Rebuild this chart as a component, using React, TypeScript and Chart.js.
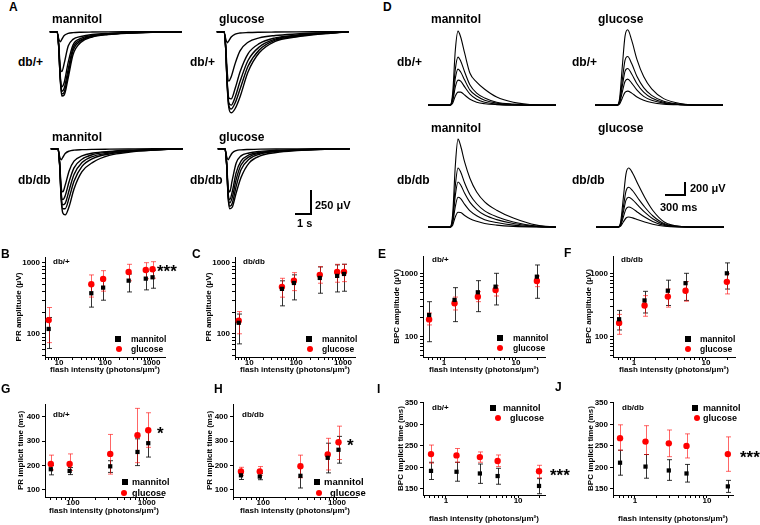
import React, { useEffect, useRef } from "react";
import { Chart, registerables } from "chart.js";

Chart.register(...registerables);

const FONT = "'Liberation Sans', Arial, Helvetica, sans-serif";
Chart.defaults.font.family = FONT;
Chart.defaults.color = "#000";

// ---------------- DATA ----------------
// Panel A: photoresponse traces (time in s after flash, amplitude in µV)
const PR_TIMES_S = [-0.45, 0, 0.1, 0.2, 0.3, 0.45, 0.7, 1.0, 1.5, 2.2, 3.2, 4.5, 6, 7.8];
const A_DBH_MANNITOL = [
  [0, 0, -70, -105, -80, -40, -18, -10, -6, -4, -2, -1, 0, 0],
  [0, 0, -120, -360, -415, -330, -150, -80, -50, -30, -18, -10, -4, 0],
  [0, 0, -130, -450, -575, -530, -320, -140, -70, -40, -22, -12, -5, 0],
  [0, 0, -135, -470, -620, -590, -390, -170, -85, -45, -25, -13, -5, 0],
  [0, 0, -140, -480, -650, -630, -440, -200, -95, -50, -27, -14, -6, 0],
  [0, 0, -140, -490, -670, -660, -480, -240, -110, -55, -30, -15, -6, 0],
];
const A_DBH_GLUCOSE = [
  [0, 0, -70, -115, -95, -55, -25, -14, -9, -6, -4, -2, -1, 0],
  [0, 0, -130, -420, -515, -470, -330, -200, -110, -65, -40, -24, -12, 0],
  [0, 0, -150, -520, -690, -700, -590, -420, -230, -125, -65, -36, -17, 0],
  [0, 0, -155, -540, -740, -765, -680, -520, -300, -160, -78, -42, -20, 0],
  [0, 0, -160, -550, -770, -805, -740, -600, -360, -190, -88, -48, -22, 0],
  [0, 0, -160, -560, -790, -845, -800, -680, -420, -220, -100, -55, -25, 0],
];
const A_DBDB_MANNITOL = [
  [0, 0, -80, -115, -90, -50, -25, -15, -10, -7, -5, -3, -1, 0],
  [0, 0, -140, -400, -450, -380, -230, -130, -75, -45, -28, -16, -8, 0],
  [0, 0, -150, -460, -530, -490, -340, -200, -110, -60, -35, -20, -9, 0],
  [0, 0, -155, -490, -585, -570, -430, -270, -145, -80, -45, -24, -11, 0],
  [0, 0, -160, -510, -625, -625, -510, -340, -185, -100, -55, -28, -13, 0],
  [0, 0, -165, -530, -670, -690, -600, -420, -240, -140, -70, -35, -15, 0],
];
const A_DBDB_GLUCOSE = [
  [0, 0, -80, -115, -85, -45, -20, -12, -8, -5, -3, -2, -1, 0],
  [0, 0, -140, -410, -450, -330, -150, -75, -45, -28, -17, -10, -5, 0],
  [0, 0, -150, -470, -530, -450, -250, -130, -65, -38, -22, -12, -6, 0],
  [0, 0, -155, -490, -565, -510, -320, -170, -85, -45, -26, -14, -6, 0],
  [0, 0, -160, -505, -600, -570, -390, -220, -110, -55, -30, -16, -7, 0],
  [0, 0, -160, -515, -625, -610, -460, -300, -150, -75, -40, -20, -8, 0],
];

// Panel D: bipolar cell responses (time in ms after flash, amplitude in µV)
const BPC_TIMES_MS = [-330, 0, 40, 80, 120, 160, 220, 300, 400, 520, 700, 950, 1300, 1590];
const D_DBH_MANNITOL = [
  [0, 0, 185, 850, 1140, 1050, 800, 490, 355, 245, 125, 45, 5, 0],
  [0, 0, 125, 555, 740, 680, 510, 310, 185, 110, 45, 15, 0, 0],
  [0, 0, 90, 415, 555, 510, 385, 230, 140, 75, 30, 8, 0, 0],
  [0, 0, 60, 280, 385, 370, 280, 170, 90, 45, 15, 3, 0, 0],
  [0, 0, 30, 140, 200, 200, 155, 90, 45, 22, 8, 0, 0, 0],
];
const D_DBH_GLUCOSE = [
  [0, 0, 110, 600, 1060, 1160, 1000, 700, 440, 250, 100, 25, 0, 0],
  [0, 0, 75, 390, 690, 750, 640, 440, 270, 150, 60, 15, 0, 0],
  [0, 0, 55, 295, 520, 565, 480, 330, 200, 110, 45, 10, 0, 0],
  [0, 0, 40, 205, 365, 400, 340, 230, 135, 75, 30, 8, 0, 0],
  [0, 0, 20, 110, 195, 215, 185, 125, 75, 40, 15, 4, 0, 0],
];
const D_DBDB_MANNITOL = [
  [0, 0, 200, 950, 1355, 1250, 1000, 750, 540, 390, 260, 140, 30, 0],
  [0, 0, 135, 640, 910, 850, 680, 500, 360, 250, 160, 80, 15, 0],
  [0, 0, 100, 490, 695, 650, 520, 380, 270, 185, 115, 55, 10, 0],
  [0, 0, 65, 320, 460, 440, 350, 250, 175, 115, 70, 30, 5, 0],
  [0, 0, 30, 160, 230, 225, 180, 130, 90, 55, 30, 12, 2, 0],
];
const D_DBDB_GLUCOSE = [
  [0, 0, 80, 450, 820, 910, 830, 660, 460, 260, 75, 10, 0, 0],
  [0, 0, 55, 305, 555, 615, 560, 445, 310, 175, 50, 7, 0, 0],
  [0, 0, 40, 230, 415, 460, 420, 335, 230, 130, 38, 5, 0, 0],
  [0, 0, 28, 155, 280, 310, 285, 225, 155, 88, 25, 3, 0, 0],
  [0, 0, 14, 78, 140, 155, 142, 112, 78, 44, 12, 2, 0, 0],
];

// Flash intensities (photons/µm²)
const PR_INTENSITY = [6, 50, 90, 320, 750, 1050];
const PR_INTENSITY_TIME = [50, 90, 320, 750, 1050];
const BPC_INTENSITY = [0.62, 1.4, 2.95, 5.2, 19.5];

// B: PR amplitude db/+
const B_MANNITOL = [117, 374, 449, 563, 601, 628];
const B_MANNITOL_LO = [62, 238, 298, 390, 417, 440];
const B_MANNITOL_HI = [170, 480, 580, 700, 760, 790];
const B_GLUCOSE = [156, 500, 596, 747, 797, 815];
const B_GLUCOSE_LO = [75, 330, 400, 560, 600, 610];
const B_GLUCOSE_HI = [235, 678, 779, 958, 1010, 1043];
// C: PR amplitude db/db
const C_MANNITOL = [143, 431, 522, 615, 657, 700];
const C_MANNITOL_LO = [72, 248, 301, 374, 390, 399];
const C_MANNITOL_HI = [190, 560, 680, 880, 940, 960];
const C_GLUCOSE = [153, 460, 560, 680, 745, 750];
const C_GLUCOSE_LO = [100, 329, 407, 518, 535, 545];
const C_GLUCOSE_HI = [206, 608, 731, 887, 958, 958];
// E: BPC amplitude db/+
const E_MANNITOL = [223, 387, 512, 629, 906];
const E_MANNITOL_LO = [84, 175, 252, 322, 411];
const E_MANNITOL_HI = [363, 606, 783, 1025, 1390];
const E_GLUCOSE = [190, 343, 436, 557, 774];
const E_GLUCOSE_LO = [155, 268, 363, 447, 629];
const E_GLUCOSE_HI = [240, 430, 524, 650, 930];
// F: BPC amplitude db/db
const F_MANNITOL = [191, 380, 542, 714, 1025];
const F_MANNITOL_LO = [129, 240, 316, 380, 576];
const F_MANNITOL_HI = [264, 530, 797, 1025, 1500];
const F_GLUCOSE = [167, 316, 437, 540, 750];
const F_GLUCOSE_LO = [110, 213, 297, 369, 482];
const F_GLUCOSE_HI = [228, 453, 576, 757, 1010];
// G: PR implicit time db/+
const G_MANNITOL = [185, 178, 197, 256, 292];
const G_MANNITOL_LO = [162, 163, 172, 200, 235];
const G_MANNITOL_HI = [200, 192, 220, 310, 350];
const G_GLUCOSE = [207, 207, 248, 325, 345];
const G_GLUCOSE_LO = [182, 180, 165, 212, 275];
const G_GLUCOSE_HI = [243, 248, 328, 435, 417];
// H: PR implicit time db/db
const H_MANNITOL = [160, 155, 158, 232, 265];
const H_MANNITOL_LO = [143, 142, 108, 170, 210];
const H_MANNITOL_HI = [175, 168, 205, 292, 320];
const H_GLUCOSE = [176, 176, 197, 246, 296];
const H_GLUCOSE_LO = [160, 160, 150, 182, 225];
const H_GLUCOSE_HI = [193, 196, 243, 312, 362];
// I: BPC implicit time db/+
const I_MANNITOL = [192, 190, 186, 180, 157];
const I_MANNITOL_LO = [172, 168, 163, 161, 139];
const I_MANNITOL_HI = [212, 212, 208, 198, 174];
const I_GLUCOSE = [231, 228, 224, 215, 191];
const I_GLUCOSE_LO = [210, 212, 212, 202, 176];
const I_GLUCOSE_HI = [252, 244, 236, 229, 205];
// J: BPC implicit time db/db
const J_MANNITOL = [211, 202, 193, 186, 156];
const J_MANNITOL_LO = [182, 175, 170, 166, 142];
const J_MANNITOL_HI = [240, 230, 218, 207, 170];
const J_GLUCOSE = [268, 260, 256, 250, 231];
const J_GLUCOSE_LO = [240, 230, 225, 222, 191];
const J_GLUCOSE_HI = [299, 297, 287, 278, 271];

// Tick labels
const PR_X_TICKS = [10, 100, 1000];
const PR_TIME_X_TICKS = [100, 1000];
const BPC_X_TICKS = [1, 10];
const AMP_Y_TICKS = [100, 1000];
const PR_TIME_Y_TICKS = [100, 200, 300, 400];
const BPC_TIME_Y_TICKS = [150, 200, 250, 300, 350];

const X_TITLE = "flash intensity (photons/\u03bcm\u00b2)";

// ---------------- helpers ----------------
function logTicks(min: number, max: number): number[] {
  const out: number[] = [];
  for (let e = Math.floor(Math.log10(min)); e <= Math.ceil(Math.log10(max)); e++) {
    for (let k = 1; k < 10; k++) {
      const v = parseFloat((k * Math.pow(10, e)).toPrecision(6));
      if (v >= min && v <= max) out.push(v);
    }
  }
  return out;
}
function majorLabel(v: number, majors: number[]) {
  const m = majors.find((mm) => Math.abs(v - mm) <= Math.abs(mm) * 1e-6);
  return m === undefined ? "" : String(m);
}

const errorBarPlugin = {
  id: "errorBars",
  beforeDatasetsDraw(chart: any) {
    const { ctx, scales } = chart;
    const xs = scales.x;
    const ys = scales.y;
    ctx.save();
    chart.data.datasets.forEach((ds: any) => {
      if (!ds.errLo) return;
      ctx.strokeStyle = ds.errColor;
      ctx.lineWidth = 1;
      ds.data.forEach((p: any, i: number) => {
        const x = Math.round(xs.getPixelForValue(p.x)) + 0.5;
        const yl = ys.getPixelForValue(ds.errLo[i]);
        const yh = ys.getPixelForValue(ds.errHi[i]);
        ctx.beginPath();
        ctx.moveTo(x, yl);
        ctx.lineTo(x, yh);
        ctx.moveTo(x - 2.5, yl);
        ctx.lineTo(x + 2.5, yl);
        ctx.moveTo(x - 2.5, yh);
        ctx.lineTo(x + 2.5, yh);
        ctx.stroke();
      });
    });
    ctx.restore();
  },
};

function waveConfig(w: any) {
  return {
    type: "line",
    data: {
      datasets: w.traces.map((tr: number[]) => ({
        data: w.times.map((t: number, i: number) => ({ x: t, y: tr[i] })),
        borderColor: "#000",
        borderWidth: w.lw,
        pointRadius: 0,
        cubicInterpolationMode: "monotone",
        fill: false,
        clip: false,
      })),
    },
    options: {
      animation: false,
      responsive: false,
      events: [],
      layout: { padding: 0, autoPadding: false },
      plugins: { legend: { display: false }, tooltip: { enabled: false } },
      scales: {
        x: { type: "linear", display: false, min: w.xr[0], max: w.xr[1] },
        y: { type: "linear", display: false, min: w.yr[0], max: w.yr[1] },
      },
    },
  };
}

function axis(log: boolean, range: number[], majors: number[], title: string, fit: (s: any) => void, pad: number) {
  return {
    type: log ? "logarithmic" : "linear",
    min: range[0],
    max: range[1],
    bounds: "data",
    afterBuildTicks: (s: any) => {
      s.ticks = (log ? logTicks(range[0], range[1]) : majors).map((v) => ({ value: v }));
    },
    afterFit: fit,
    ticks: {
      autoSkip: false,
      maxRotation: 0,
      minRotation: 0,
      padding: pad,
      color: "#000",
      font: { size: 8, weight: "bold", family: FONT },
      callback: (v: any) => majorLabel(Number(v), majors),
    },
    grid: { display: true, drawOnChartArea: false, drawTicks: true, tickLength: 3, color: "#000", lineWidth: 1 },
    border: { display: true, color: "#000", width: 1 },
    title: { display: true, text: title, color: "#000", padding: { top: 0, bottom: 0 }, font: { size: 8, weight: "bold", family: FONT } },
  };
}

function scatterConfig(p: any) {
  const [l, t, w, h] = p.box;
  const [x0, y0, x1, y1] = p.area;
  const padL = p.titleX - 5 - l;
  const yW = x0 - l - padL;
  const padT = y0 - t;
  const padR = l + w - x1;
  const xH = p.titleBottom - y1;
  const padB = t + h - p.titleBottom;
  const pts = (vals: number[]) => p.x.map((x: number, i: number) => ({ x, y: vals[i] }));
  return {
    type: "scatter",
    data: {
      datasets: [
        {
          label: "mannitol",
          data: pts(p.m),
          errLo: p.mLo,
          errHi: p.mHi,
          errColor: "rgba(0,0,0,0.8)",
          pointStyle: "rect",
          pointRadius: 3,
          backgroundColor: "#000",
          borderColor: "#000",
          borderWidth: 0,
        },
        {
          label: "glucose",
          data: pts(p.g),
          errLo: p.gLo,
          errHi: p.gHi,
          errColor: "rgba(255,0,0,0.6)",
          pointStyle: "circle",
          pointRadius: 3.2,
          backgroundColor: "#ff0000",
          borderColor: "#ff0000",
          borderWidth: 0,
        },
      ],
    },
    options: {
      animation: false,
      responsive: false,
      events: [],
      layout: { padding: { left: padL, top: padT, right: padR, bottom: padB } },
      plugins: { legend: { display: false }, tooltip: { enabled: false } },
      scales: {
        x: axis(p.xLog, p.xRange, p.xMajor, X_TITLE, (s: any) => { s.height = xH; }, -2),
        y: axis(p.yLog, p.yRange, p.yMajor, p.yTitle, (s: any) => { s.width = yW; }, 2),
      },
    },
    plugins: [errorBarPlugin],
  };
}

// ---------------- layout ----------------
const A_PX_PER_S = 16;
const A_PX_PER_UV = 0.096;
const D_PX_PER_MS = 1 / 15;
const D_PX_PER_UV = 0.065;
const A_XR = [-0.5, 8.0];
const A_YR = [-920, 80];
const D_XR = [-330, 1590];
const D_YR = [-60, 1450];
const AW = (A_XR[1] - A_XR[0]) * A_PX_PER_S;
const AH = (A_YR[1] - A_YR[0]) * A_PX_PER_UV;
const DW = (D_XR[1] - D_XR[0]) * D_PX_PER_MS;
const DH = Math.round((D_YR[1] - D_YR[0]) * D_PX_PER_UV);

const WAVES = [
  { box: [49, 24, AW, AH], times: PR_TIMES_S, traces: A_DBH_MANNITOL, xr: A_XR, yr: A_YR, lw: 1.4 },
  { box: [216, 24, AW, AH], times: PR_TIMES_S, traces: A_DBH_GLUCOSE, xr: A_XR, yr: A_YR, lw: 1.4 },
  { box: [50, 141, AW, AH], times: PR_TIMES_S, traces: A_DBDB_MANNITOL, xr: A_XR, yr: A_YR, lw: 1.4 },
  { box: [217, 141, AW, AH], times: PR_TIMES_S, traces: A_DBDB_GLUCOSE, xr: A_XR, yr: A_YR, lw: 1.4 },
  { box: [428, 11, DW, DH], times: BPC_TIMES_MS, traces: D_DBH_MANNITOL, xr: D_XR, yr: D_YR, lw: 1.1 },
  { box: [595, 11, DW, DH], times: BPC_TIMES_MS, traces: D_DBH_GLUCOSE, xr: D_XR, yr: D_YR, lw: 1.1 },
  { box: [428, 133, DW, DH], times: BPC_TIMES_MS, traces: D_DBDB_MANNITOL, xr: D_XR, yr: D_YR, lw: 1.1 },
  { box: [596, 133, DW, DH], times: BPC_TIMES_MS, traces: D_DBDB_GLUCOSE, xr: D_XR, yr: D_YR, lw: 1.1 },
];

const PANELS = [
  { box: [0, 245, 178, 135], area: [45, 257, 165, 357], titleX: 19, titleBottom: 375, xLog: true, xRange: [5, 1950], xMajor: PR_X_TICKS, yLog: true, yRange: [47, 1215], yMajor: AMP_Y_TICKS, yTitle: "PR amplitude (\u03bcV)", x: PR_INTENSITY, m: B_MANNITOL, mLo: B_MANNITOL_LO, mHi: B_MANNITOL_HI, g: B_GLUCOSE, gLo: B_GLUCOSE_LO, gHi: B_GLUCOSE_HI },
  { box: [190, 245, 178, 135], area: [235, 257, 355, 357], titleX: 209, titleBottom: 375, xLog: true, xRange: [5, 1800], xMajor: PR_X_TICKS, yLog: true, yRange: [47, 1215], yMajor: AMP_Y_TICKS, yTitle: "PR amplitude (\u03bcV)", x: PR_INTENSITY, m: C_MANNITOL, mLo: C_MANNITOL_LO, mHi: C_MANNITOL_HI, g: C_GLUCOSE, gLo: C_GLUCOSE_LO, gHi: C_GLUCOSE_HI },
  { box: [378, 245, 180, 135], area: [423, 256, 545, 357], titleX: 397, titleBottom: 375, xLog: true, xRange: [0.51, 25.3], xMajor: BPC_X_TICKS, yLog: true, yRange: [48, 1930], yMajor: AMP_Y_TICKS, yTitle: "BPC amplitude (\u03bcV)", x: BPC_INTENSITY, m: E_MANNITOL, mLo: E_MANNITOL_LO, mHi: E_MANNITOL_HI, g: E_GLUCOSE, gLo: E_GLUCOSE_LO, gHi: E_GLUCOSE_HI },
  { box: [568, 245, 180, 135], area: [613, 256, 735, 357], titleX: 589, titleBottom: 375, xLog: true, xRange: [0.51, 25.3], xMajor: BPC_X_TICKS, yLog: true, yRange: [48, 1930], yMajor: AMP_Y_TICKS, yTitle: "BPC amplitude (\u03bcV)", x: BPC_INTENSITY, m: F_MANNITOL, mLo: F_MANNITOL_LO, mHi: F_MANNITOL_HI, g: F_GLUCOSE, gLo: F_GLUCOSE_LO, gHi: F_GLUCOSE_HI },
  { box: [0, 395, 178, 130], area: [45, 404, 163, 497], titleX: 21, titleBottom: 516, xLog: true, xRange: [41.7, 1664], xMajor: PR_TIME_X_TICKS, yLog: false, yRange: [71, 453], yMajor: PR_TIME_Y_TICKS, yTitle: "PR implicit time (ms)", x: PR_INTENSITY_TIME, m: G_MANNITOL, mLo: G_MANNITOL_LO, mHi: G_MANNITOL_HI, g: G_GLUCOSE, gLo: G_GLUCOSE_LO, gHi: G_GLUCOSE_HI },
  { box: [190, 395, 178, 130], area: [233, 404, 357, 497], titleX: 210, titleBottom: 516, xLog: true, xRange: [39, 1870], xMajor: PR_TIME_X_TICKS, yLog: false, yRange: [71, 453], yMajor: PR_TIME_Y_TICKS, yTitle: "PR implicit time (ms)", x: PR_INTENSITY_TIME, m: H_MANNITOL, mLo: H_MANNITOL_LO, mHi: H_MANNITOL_HI, g: H_GLUCOSE, gLo: H_GLUCOSE_LO, gHi: H_GLUCOSE_HI },
  { box: [378, 392, 180, 133], area: [423, 402, 545, 495], titleX: 401, titleBottom: 524, xLog: true, xRange: [0.48, 23.6], xMajor: BPC_X_TICKS, yLog: false, yRange: [136, 352], yMajor: BPC_TIME_Y_TICKS, yTitle: "BPC implicit time (ms)", x: BPC_INTENSITY, m: I_MANNITOL, mLo: I_MANNITOL_LO, mHi: I_MANNITOL_HI, g: I_GLUCOSE, gLo: I_GLUCOSE_LO, gHi: I_GLUCOSE_HI },
  { box: [568, 392, 180, 133], area: [613, 402, 733, 495], titleX: 591, titleBottom: 524, xLog: true, xRange: [0.495, 23], xMajor: BPC_X_TICKS, yLog: false, yRange: [136, 352], yMajor: BPC_TIME_Y_TICKS, yTitle: "BPC implicit time (ms)", x: BPC_INTENSITY, m: J_MANNITOL, mLo: J_MANNITOL_LO, mHi: J_MANNITOL_HI, g: J_GLUCOSE, gLo: J_GLUCOSE_LO, gHi: J_GLUCOSE_HI },
];

// [text, left, centerY, size]
const TEXTS: [string, number, number, number][] = [
  ["A", 9, 7, 12], ["D", 383, 7, 12], ["B", 1, 254, 12], ["C", 192, 254, 12], ["E", 378, 254, 12], ["F", 564, 253, 12],
  ["G", 1, 389, 12], ["H", 214, 389, 12], ["I", 377, 389, 12], ["J", 555, 387, 12],
  ["mannitol", 52, 19, 12], ["glucose", 219, 19, 12], ["db/+", 18, 62, 12], ["db/+", 190, 62, 12],
  ["mannitol", 52, 137, 12], ["glucose", 219, 137, 12], ["db/db", 18, 180, 12], ["db/db", 190, 180, 12],
  ["mannitol", 431, 19, 12], ["glucose", 598, 19, 12], ["db/+", 397, 62, 12], ["db/+", 572, 62, 12],
  ["mannitol", 431, 128, 12], ["glucose", 598, 128, 12], ["db/db", 397, 180, 12], ["db/db", 572, 180, 12],
  ["250 \u03bcV", 315, 205, 11], ["1 s", 297, 223, 11], ["200 \u03bcV", 690, 188, 11], ["300 ms", 660, 207, 11],
  ["db/+", 53, 262, 8], ["db/db", 243, 262, 8], ["db/+", 432, 260, 8], ["db/db", 621, 260, 8],
  ["db/+", 53, 415, 8], ["db/db", 242, 415, 8], ["db/+", 432, 408, 8], ["db/db", 622, 408, 8],
];
// [text, left, top, size]
const STARS: [string, number, number, number][] = [
  ["***", 157, 263, 17], ["*", 157, 425, 17], ["*", 347, 437, 17], ["***", 550, 467, 17], ["***", 740, 449, 17],
];
// legends: marker centres and text starts
const LEGENDS = [
  { mx: 118, my: 339, gx: 119, gy: 349, tm: 131, tg: 131, s: 8.5 },
  { mx: 309, my: 339, gx: 310, gy: 349, tm: 322, tg: 322, s: 8.5 },
  { mx: 500, my: 338, gx: 500, gy: 348, tm: 513, tg: 513, s: 8.5 },
  { mx: 688, my: 339, gx: 688, gy: 349, tm: 700, tg: 700, s: 8.5 },
  { mx: 125, my: 482, gx: 124, gy: 493, tm: 132, tg: 132, s: 9 },
  { mx: 317, my: 482, gx: 319, gy: 493, tm: 324, tg: 330, s: 9.5 },
  { mx: 493, my: 408, gx: 498, gy: 418, tm: 503, tg: 510, s: 9 },
  { mx: 695, my: 408, gx: 697, gy: 418, tm: 703, tg: 703, s: 9 },
];

// ---------------- components ----------------
function ChartCanvas({ box, build }: { box: number[]; build: () => any }) {
  const ref = useRef<HTMLCanvasElement | null>(null);
  useEffect(() => {
    if (!ref.current) return;
    const chart = new Chart(ref.current, build());
    return () => chart.destroy();
  }, []);
  const [left, top, width, height] = box;
  return (
    <canvas
      ref={ref}
      width={width}
      height={height}
      style={{ position: "absolute", left, top, width, height }}
    />
  );
}

function Label({ text, x, cy, s, top }: { text: string; x: number; cy?: number; s: number; top?: number }) {
  const t = top !== undefined ? top : (cy as number) - 0.49 * s;
  return (
    <div
      style={{
        position: "absolute",
        left: x,
        top: t,
        fontSize: s,
        lineHeight: `${s}px`,
        fontWeight: "bold",
        fontFamily: FONT,
        whiteSpace: "nowrap",
        color: "#000",
      }}
    >
      {text}
    </div>
  );
}

function Bar({ x, y, w, h }: { x: number; y: number; w: number; h: number }) {
  return <div style={{ position: "absolute", left: x, top: y, width: w, height: h, background: "#000" }} />;
}

export default function App() {
  const aBarH = 250 * A_PX_PER_UV;
  const aBarW = 1 * A_PX_PER_S;
  const dBarH = 200 * D_PX_PER_UV;
  const dBarW = 300 * D_PX_PER_MS;
  return (
    <div
      style={{
        position: "absolute",
        left: 0,
        top: 0,
        width: 760,
        height: 525,
        background: "#fff",
        overflow: "hidden",
        fontFamily: FONT,
      }}
    >
      {WAVES.map((w, i) => (
        <ChartCanvas key={"w" + i} box={w.box} build={() => waveConfig(w)} />
      ))}
      {PANELS.map((p, i) => (
        <ChartCanvas key={"p" + i} box={p.box} build={() => scatterConfig(p)} />
      ))}
      {TEXTS.map(([t, x, cy, s], i) => (
        <Label key={"t" + i} text={t} x={x} cy={cy} s={s} />
      ))}
      {STARS.map(([t, x, top, s], i) => (
        <Label key={"s" + i} text={t} x={x} top={top} s={s} />
      ))}
      {LEGENDS.map((g, i) => (
        <React.Fragment key={"l" + i}>
          <div style={{ position: "absolute", left: g.mx - 3, top: g.my - 3, width: 6, height: 6, background: "#000" }} />
          <div style={{ position: "absolute", left: g.gx - 3.2, top: g.gy - 3.2, width: 6.4, height: 6.4, borderRadius: "50%", background: "#ff0000" }} />
          <Label text="mannitol" x={g.tm} cy={g.my} s={g.s} />
          <Label text="glucose" x={g.tg} cy={g.gy} s={g.s} />
        </React.Fragment>
      ))}
      {/* scale bars */}
      <Bar x={310} y={214 - aBarH} w={2} h={aBarH + 1} />
      <Bar x={311 - aBarW} y={213} w={aBarW + 1} h={2} />
      <Bar x={684} y={195 - dBarH} w={2} h={dBarH + 1} />
      <Bar x={685 - dBarW} y={194} w={dBarW + 1} h={2} />
    </div>
  );
}
